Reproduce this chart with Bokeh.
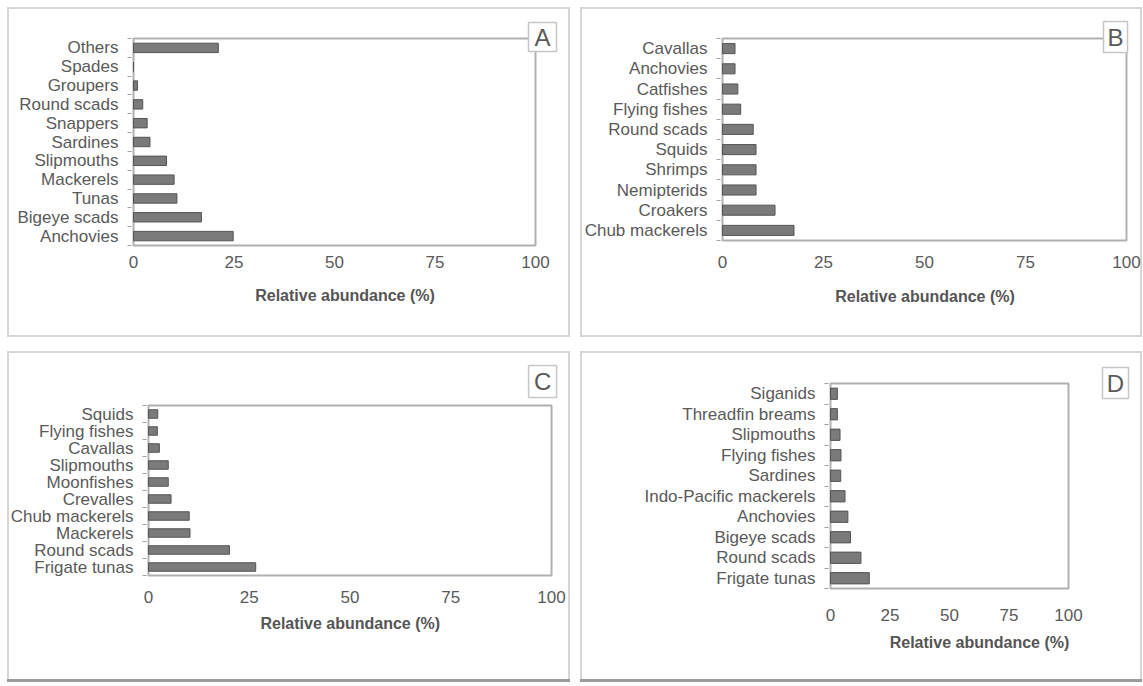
from bokeh.plotting import figure
from bokeh.layouts import row, column
from bokeh.models import Range1d, FixedTicker
from bokeh.core.properties import value
from bokeh.embed import file_html
from bokeh.resources import INLINE

# ---- data (top-to-bottom as drawn) ----
a_cats = ["Others", "Spades", "Groupers", "Round scads", "Snappers", "Sardines",
          "Slipmouths", "Mackerels", "Tunas", "Bigeye scads", "Anchovies"]
a_vals = [21.1, 0.0, 1.0, 2.3, 3.4, 4.1, 8.2, 10.1, 10.8, 16.9, 24.8]

b_cats = ["Cavallas", "Anchovies", "Catfishes", "Flying fishes", "Round scads",
          "Squids", "Shrimps", "Nemipterids", "Croakers", "Chub mackerels"]
b_vals = [3.1, 3.1, 3.8, 4.5, 7.6, 8.3, 8.3, 8.3, 13.0, 17.7]

c_cats = ["Squids", "Flying fishes", "Cavallas", "Slipmouths", "Moonfishes",
          "Crevalles", "Chub mackerels", "Mackerels", "Round scads", "Frigate tunas"]
c_vals = [2.3, 2.2, 2.7, 4.9, 4.9, 5.6, 10.1, 10.3, 20.1, 26.6]

d_cats = ["Siganids", "Threadfin breams", "Slipmouths", "Flying fishes", "Sardines",
          "Indo-Pacific mackerels", "Anchovies", "Bigeye scads", "Round scads", "Frigate tunas"]
d_vals = [2.9, 2.9, 4.0, 4.4, 4.3, 6.1, 7.3, 8.4, 12.8, 16.3]

x_ticks = [0, 25, 50, 75, 100]
x_title = "Relative abundance (%)"
c_title = "Relative abundance  (%)"
letters = ["A", "B", "C", "D"]

FONT = "Liberation Sans"
PAD = 2


def panel(cats, vals, letter, title, origin, W, H, plot_box, letter_box,
          frame_t, frame_b, tick_sd, title_sd, bar_h, shadow):
    ox, oy = origin
    pl, pr, pt, pb = plot_box            # visible plot area (page px)
    bl_, br_, bt_, bb_ = letter_box      # letter box (page px)
    n = len(cats)
    px_x = (pr - pl) / 100.0
    px_y = (pb - pt) / n
    frame_r = max(pr, br_) + 2
    x_start = -PAD / px_x
    x_end = 100 + (frame_r - pr) / px_x
    y_start = -(frame_b - pb) / px_y
    y_end = n + (pt - frame_t) / px_y

    p = figure(width=W, height=H, output_backend="svg", toolbar_location=None,
               x_range=Range1d(x_start, x_end), y_range=Range1d(y_start, y_end),
               min_border_left=int(round(pl - PAD - ox)),
               min_border_right=int(round(ox + W - frame_r)),
               min_border_top=int(round(frame_t - oy)),
               min_border_bottom=int(round(oy + H - frame_b)),
               background_fill_color=None, border_fill_color=None)
    p.styles = {"box-shadow": shadow}
    p.outline_line_color = None
    p.xgrid.visible = False
    p.ygrid.visible = False

    ypos = [n - k - 0.5 for k in range(n)]
    # visible plot area outline
    p.quad(left=[0], right=[100], bottom=[0], top=[n], fill_color="white",
           line_color="#b0b0b0", line_width=2)
    p.hbar(y=ypos, right=vals, left=0, height=bar_h,
           fill_color="#7a7a7a", line_color="#555555", line_width=1)

    # letter box
    cx = ((bl_ + br_) / 2 - pl) / px_x
    cy = (pb - (bt_ + bb_) / 2) / px_y
    p.rect(x=[cx], y=[cy], width=br_ - bl_, height=bb_ - bt_,
           width_units="screen", height_units="screen",
           fill_color="white", line_color="#c6c6c6", line_width=1.5)
    p.text(x=[cx], y=[cy], text=[letter], text_align="center", text_baseline="middle",
           text_font=value(FONT), text_font_size="24px", text_color="#5a5a5a")

    for ax in (p.xaxis[0], p.yaxis[0]):
        ax.axis_line_color = None
        ax.major_tick_line_color = None
        ax.major_tick_out = 0
        ax.major_tick_in = 0
        ax.major_label_text_font = FONT
        ax.major_label_text_font_size = "17px"
        ax.major_label_text_color = "#5a5a5a"
    p.xaxis.minor_tick_line_color = None
    p.xaxis.ticker = FixedTicker(ticks=x_ticks)
    p.xaxis.major_label_standoff = tick_sd
    p.xaxis.axis_label = title
    p.xaxis.axis_label_standoff = title_sd
    p.xaxis.axis_label_text_font = FONT
    p.xaxis.axis_label_text_font_size = "16px"
    p.xaxis.axis_label_text_font_style = "bold"
    p.xaxis.axis_label_text_color = "#555555"

    p.yaxis.ticker = FixedTicker(ticks=ypos, minor_ticks=list(range(n + 1)))
    p.yaxis.major_label_overrides = {y: c for y, c in zip(ypos, cats)}
    p.yaxis.major_label_standoff = 9
    p.yaxis.minor_tick_line_color = "#a0a0a0"
    p.yaxis.minor_tick_out = 4
    p.yaxis.minor_tick_in = 0
    return p


top_shadow = "inset 0 0 0 2px #d6d6d6"
bot_shadow = "inset 0 -3px 0 0 #9c9c9c, inset 0 0 0 2px #d6d6d6"

# reference geometry (page px): visible plot boxes and letter boxes
geo_a = ((133, 535, 38, 245), (528, 556, 22, 51))
geo_b = ((722, 1126, 38, 240), (1103, 1127, 21, 52))
geo_c = ((146, 551, 405, 575), (528, 556, 365, 397))
geo_d = ((830, 1068, 383, 588), (1102, 1128, 367, 398))


def row_frame(*geos):
    top = min(min(g[0][2], g[1][2]) - 2 for g in geos)
    bot = max(g[0][3] + PAD for g in geos)
    return top, bot


ft1, fb1 = row_frame(geo_a, geo_b)
ft2, fb2 = row_frame(geo_c, geo_d)

pA = panel(a_cats, a_vals, letters[0], x_title, (7, 7), 563, 330, *geo_a,
           ft1, fb1, 8, 16, 0.5, top_shadow)
pB = panel(b_cats, b_vals, letters[1], x_title, (580, 7), 562, 330, *geo_b,
           ft1, fb1, 8, 17, 0.5, top_shadow)
pC = panel(c_cats, c_vals, letters[2], c_title, (7, 351), 563, 331, *geo_c,
           ft2, fb2, 0, 9, 0.5, bot_shadow)
pD = panel(d_cats, d_vals, letters[3], x_title, (580, 351), 562, 331, *geo_d,
           ft2, fb2, 18, 10, 0.55, bot_shadow)

layout = column(row(pA, pB, spacing=10), row(pC, pD, spacing=10), spacing=14)
layout.margin = (7, 0, 0, 7)

open("out.html", "w").write(file_html(layout, INLINE))
